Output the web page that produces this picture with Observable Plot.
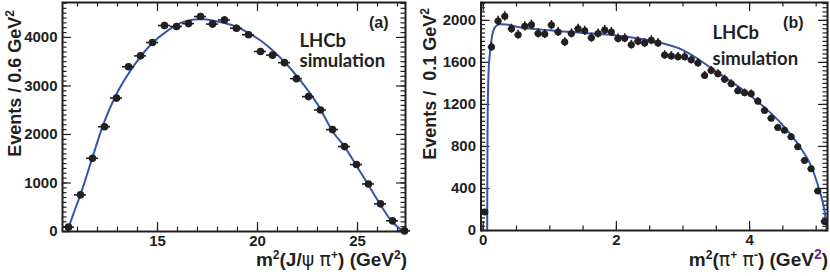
<!DOCTYPE html>
<html><head><meta charset="utf-8">
<script src="https://cdn.jsdelivr.net/npm/d3@7"></script>
<script src="https://cdn.jsdelivr.net/npm/@observablehq/plot@0.6"></script>
<style>
html,body{margin:0;padding:0;background:#fff;}
#wrap{position:relative;width:830px;height:276px;overflow:hidden;background:#fff;}
#pa,#pb{position:absolute;top:0;}
#pa{left:0;} #pb{left:415px;}
</style></head><body>
<div id="wrap"><div id="pa"></div><div id="pb"></div></div>
<script>
// ---------- Panel (a): m^2(J/psi pi+) ----------
const binA = [10.55, 11.15, 11.75, 12.35, 12.95, 13.55, 14.15, 14.75, 15.35, 15.95, 16.55, 17.15, 17.75, 18.35, 18.95, 19.55, 20.15, 20.75, 21.35, 21.95, 22.55, 23.15, 23.75, 24.35, 24.95, 25.55, 26.15, 26.75, 27.35];
const cntA = [90, 755, 1510, 2160, 2750, 3395, 3620, 3895, 4245, 4225, 4285, 4430, 4275, 4360, 4190, 4055, 3710, 3635, 3480, 3150, 2780, 2505, 2100, 1750, 1380, 980, 570, 220, 12];
const fitAx = [10.49, 10.8, 11.15, 11.74, 12.3, 12.99, 13.82, 14.65, 15.49, 16.32, 17.15, 17.99, 18.82, 19.65, 20.49, 21.32, 22.15, 22.99, 23.82, 24.35, 24.95, 25.54, 26.14, 26.75, 27.05, 27.32];
const fitAy = [0, 370, 760, 1517, 2220, 2864, 3420, 3845, 4135, 4325, 4380, 4330, 4240, 4070, 3830, 3510, 3110, 2630, 2025, 1750, 1355, 965, 557, 190, 80, 0];
const ticksAx = [15, 20, 25];
const ticksAy = [0, 1000, 2000, 3000, 4000];

// ---------- Panel (b): m^2(pi+ pi-) ----------
const binB = [0.025, 0.125, 0.225, 0.325, 0.425, 0.525, 0.625, 0.725, 0.825, 0.925, 1.025, 1.125, 1.225, 1.325, 1.425, 1.525, 1.625, 1.725, 1.825, 1.925, 2.025, 2.125, 2.225, 2.325, 2.425, 2.525, 2.625, 2.725, 2.825, 2.925, 3.025, 3.125, 3.225, 3.325, 3.425, 3.525, 3.625, 3.725, 3.825, 3.925, 4.025, 4.125, 4.225, 4.325, 4.425, 4.525, 4.625, 4.725, 4.825, 4.925, 5.025, 5.125];
const cntB = [175, 1746, 1994, 2038, 1920, 1863, 1943, 1958, 1876, 1870, 1955, 1889, 1793, 1876, 1920, 1900, 1835, 1875, 1908, 1889, 1828, 1830, 1768, 1801, 1784, 1810, 1784, 1670, 1662, 1654, 1654, 1625, 1594, 1476, 1522, 1492, 1440, 1397, 1330, 1310, 1302, 1230, 1143, 1068, 981, 955, 892, 797, 667, 587, 375, 86];
const fitBx = [0.06, 0.062, 0.066, 0.072, 0.08, 0.1, 0.13, 0.18, 0.25, 0.35, 0.5, 1.0, 1.5, 2.0, 2.5, 3.0, 3.5, 4.0, 4.5, 4.75, 4.94, 5.05, 5.1, 5.13, 5.155];
const fitBy = [0, 500, 1000, 1300, 1500, 1680, 1840, 1937, 1962, 1960, 1940, 1905, 1880, 1857, 1810, 1717, 1512, 1290, 1000, 800, 590, 380, 265, 165, 0];
const ticksBx = [0, 2, 4];
const ticksBy = [0, 400, 800, 1200, 1600, 2000];

const INK = "#231f20";
const BLUE = "#3656a8";
const SANS = "'Liberation Sans', Arial, Helvetica, sans-serif";
const LFONT = "Lato, 'Open Sans', sans-serif";

function richText(sel, parts) {
  let shift = 0;
  parts.forEach(p => {
    const ts = sel.append("tspan").text(p.t);
    const want = p.sup ? -7 : 0;
    if (want !== shift) { ts.attr("dy", want - shift); shift = want; }
    if (p.sup) ts.attr("font-size", p.size || 12);
    if (p.normal) ts.attr("font-weight", "normal").attr("font-family", "'DejaVu Sans', sans-serif");
    if (p.fill) ts.attr("fill", p.fill);
  });
}

function panel(c) {
  const fw = c.width - c.mL - c.mR, fh = c.height - c.mT - c.mB;
  const pts = c.xs.map((x, i) => ({x, y: c.ys[i]}));
  const fit = c.fx.map((x, i) => ({x, y: c.fy[i]}));
  const st = {stroke: INK, strokeWidth: 1.2};
  const txt = {fontFamily: SANS, fontWeight: "bold", fill: INK};
  const svg = Plot.plot({
    width: c.width, height: c.height,
    marginLeft: c.mL, marginRight: c.mR, marginTop: c.mT, marginBottom: c.mB,
    style: {background: "#fff", color: INK, fontFamily: SANS, overflow: "visible"},
    x: {domain: c.xDomain, axis: null},
    y: {domain: c.yDomain, axis: null},
    marks: [
      // inward ticks on all four sides
      Plot.tickY(c.yMinor, {y: d => d, insetRight: fw - 4.5, ...st}),
      Plot.tickY(c.yMinor, {y: d => d, insetLeft: fw - 4.5, ...st}),
      Plot.tickY(c.yMajor, {y: d => d, insetRight: fw - 9, ...st}),
      Plot.tickY(c.yMajor, {y: d => d, insetLeft: fw - 9, ...st}),
      Plot.tickX(c.xMinor, {x: d => d, insetTop: fh - 4.5, ...st}),
      Plot.tickX(c.xMinor, {x: d => d, insetBottom: fh - 4.5, ...st}),
      Plot.tickX(c.xMajor, {x: d => d, insetTop: fh - 9, ...st}),
      Plot.tickX(c.xMajor, {x: d => d, insetBottom: fh - 9, ...st}),
      Plot.axisY(c.yMajor, {anchor: "left", tickSize: 0, tickPadding: 5, label: null, tickFormat: d => String(d), fontSize: 15, ...txt}),
      Plot.axisX(c.xMajor, {anchor: "bottom", tickSize: 0, tickPadding: 4, label: null, tickFormat: d => String(d), fontSize: 15, ...txt}),
      // fit curve
      Plot.line(fit, {x: "x", y: "y", stroke: BLUE, strokeWidth: 2, curve: "monotone-x"}),
      // data with error bars
      Plot.ruleY(pts, {y: "y", x1: d => d.x - c.halfBin, x2: d => d.x + c.halfBin, stroke: INK, strokeWidth: 1.6}),
      Plot.ruleX(pts, {x: "x", y1: d => d.y - Math.sqrt(d.y), y2: d => d.y + Math.sqrt(d.y), stroke: INK, strokeWidth: 1.6}),
      Plot.dot(pts, {x: "x", y: "y", r: c.r, fill: INK, stroke: "none"}),
      Plot.frame({stroke: INK, strokeWidth: 2}),
      // annotations
      Plot.text([c.tag], {frameAnchor: "top-right", textAnchor: "end", lineAnchor: "bottom", dx: c.tagDx, dy: c.tagDy, fontSize: 16, ...txt}),
      Plot.text(["LHCb"], {frameAnchor: "top-right", textAnchor: "start", lineAnchor: "bottom", dx: c.labDx, dy: c.labDy1, fontSize: 18.5, fontFamily: LFONT, fontWeight: "bold", fill: INK}),
      Plot.text(["simulation"], {frameAnchor: "top-right", textAnchor: "start", lineAnchor: "bottom", dx: c.labDx, dy: c.labDy2, fontSize: 18.5, fontFamily: LFONT, fontWeight: "bold", fill: INK})
    ]
  });
  const s = d3.select(svg);
  // y title
  const yt = s.append("text")
    .attr("transform", `translate(${c.ytX},${c.ytY}) rotate(-90)`)
    .attr("text-anchor", "end").attr("font-family", SANS).attr("font-weight", "bold")
    .attr("font-size", 18).attr("fill", INK);
  richText(yt, c.yTitle);
  // x title
  const xt = s.append("text")
    .attr("x", c.xtX).attr("y", c.xtY)
    .attr("text-anchor", "end").attr("font-family", SANS).attr("font-weight", "bold")
    .attr("font-size", 19).attr("fill", INK);
  richText(xt, c.xTitle);
  document.querySelector(c.el).appendChild(svg);
}

panel({
  el: "#pa", width: 415, height: 276, mL: 62, mR: 10, mT: 2, mB: 45,
  xDomain: [10.25, 27.4], yDomain: [0, 4720],
  xs: binA, ys: cntA, fx: fitAx, fy: fitAy, halfBin: 0.3, r: 3.8,
  xMajor: ticksAx, xMinor: d3.range(11, 28, 1), yMajor: ticksAy, yMinor: d3.range(0, 4701, 100),
  tag: "(a)", tagDx: -17, tagDy: 25, labDx: -106, labDy1: 44, labDy2: 64,
  ytX: 21, ytY: 10,
  yTitle: [{t: "Events / 0.6 GeV"}, {t: "2", sup: true}],
  xtX: 407, xtY: 266,
  xTitle: [{t: "m"}, {t: "2", sup: true}, {t: "(J/"}, {t: "ψ", normal: true}, {t: " "}, {t: "π", normal: true}, {t: "+", sup: true}, {t: ") (GeV"}, {t: "2", sup: true}, {t: ")"}]
});

panel({
  el: "#pb", width: 415, height: 276, mL: 65.5, mR: 3, mT: 2, mB: 46,
  xDomain: [-0.033, 5.17], yDomain: [0, 2170],
  xs: binB, ys: cntB, fx: fitBx, fy: fitBy, halfBin: 0.05, r: 3.5,
  xMajor: ticksBx, xMinor: d3.range(0, 5.2, 0.5), yMajor: ticksBy, yMinor: d3.range(0, 2161, 40),
  tag: "(b)", tagDx: -24, tagDy: 25, labDx: -115, labDy1: 36, labDy2: 62,
  ytX: 21, ytY: 8,
  yTitle: [{t: "Events /  0.1 GeV"}, {t: "2", sup: true}],
  xtX: 413, xtY: 266,
  xTitle: [{t: "m"}, {t: "2", sup: true}, {t: "("}, {t: "π", normal: true}, {t: "+", sup: true}, {t: " "}, {t: "π", normal: true}, {t: "-", sup: true}, {t: ") (GeV"}, {t: "2", sup: true, size: 14, fill: "#6a2c91"}, {t: ")"}]
});
</script>
</body></html>
